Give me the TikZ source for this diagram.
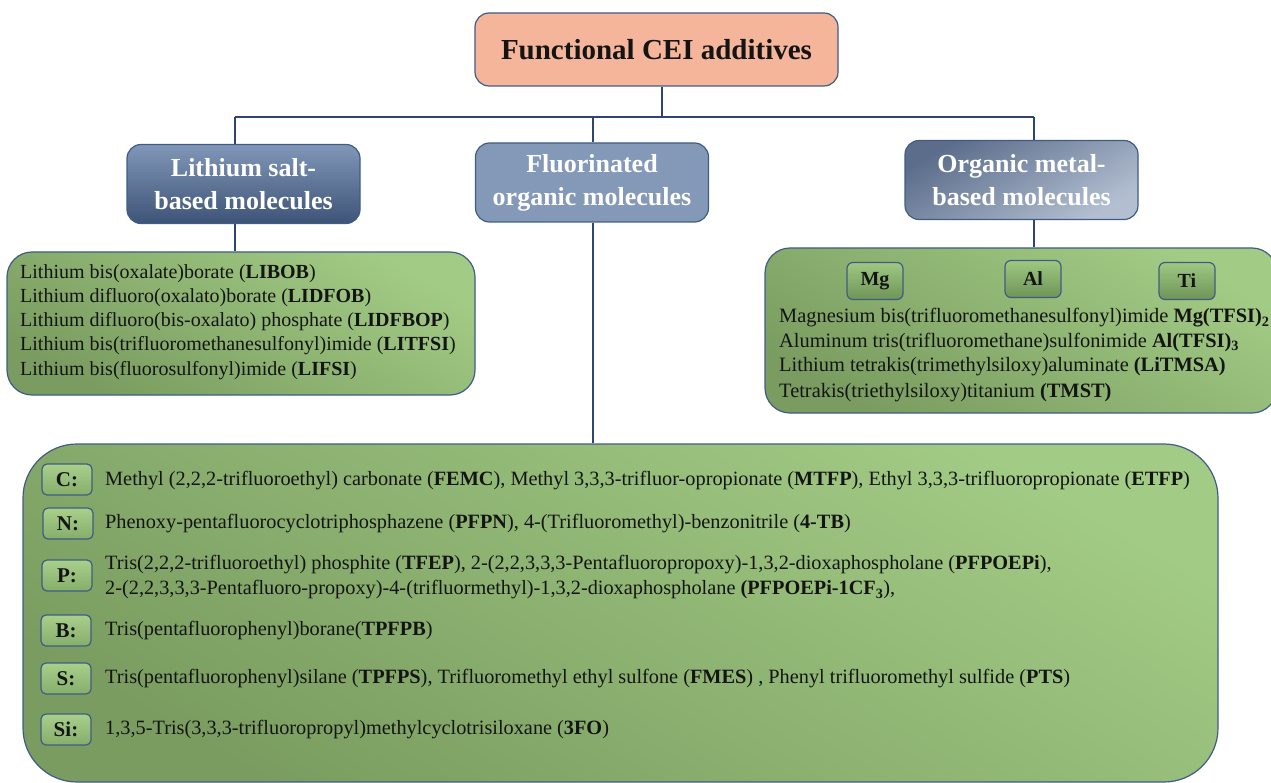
\documentclass[tikz,border=0pt]{standalone}
\usepackage{fontspec}
\setmainfont{Liberation Serif}
\definecolor{navy}{HTML}{2E4473}
\definecolor{edge}{HTML}{405C85}
\definecolor{salmon}{HTML}{F5B59B}
\definecolor{gl}{HTML}{A2CB85}
\definecolor{gd}{HTML}{7A9C60}
\definecolor{lbl}{HTML}{A8D08B}
\definecolor{lbd}{HTML}{86AE6B}
\definecolor{mgl}{HTML}{9EC882}
\definecolor{mgd}{HTML}{6F9457}
\definecolor{bl1}{HTML}{8197B8}
\definecolor{bl2}{HTML}{3D5478}
\definecolor{bl3}{HTML}{8399B7}
\definecolor{bl4}{HTML}{5B6D8B}
\definecolor{bl5}{HTML}{B3BFD1}
\definecolor{ink}{HTML}{141414}
\begin{document}
\begin{tikzpicture}[x=1pt,y=-1pt,
  conn/.style={draw=navy, line width=1.8pt},
  topbox/.style={draw=edge, line width=1.2pt, rounded corners=14pt, fill=salmon,
    minimum width=363pt, minimum height=73pt, text=ink,
    font=\fontsize{29}{32}\selectfont\bfseries},
  catbox/.style={draw=edge, line width=1.2pt, rounded corners=14pt,
    minimum width=233pt, minimum height=79pt, align=center, text=white,
    font=\fontsize{26}{33}\selectfont\bfseries},
  greenbox/.style={draw=edge, line width=1.2pt, top color=gl, bottom color=gd, shading angle=-30},
  elem/.style={draw=edge, line width=1.2pt, rounded corners=5pt, top color=lbl, bottom color=lbd,
    minimum width=50pt, minimum height=31pt, inner sep=0pt, text=ink,
    font=\fontsize{21}{24}\selectfont\bfseries},
  metal/.style={draw=edge, line width=1.2pt, rounded corners=6pt, top color=mgl, bottom color=mgd,
    minimum width=56pt, minimum height=37pt, inner sep=0pt, text=ink,
    font=\fontsize{20}{22}\selectfont\bfseries},
  txt/.style={anchor=west, inner sep=0pt, text=ink, font=\fontsize{20}{22}\selectfont},
  rtxt/.style={anchor=west, inner sep=0pt, text=ink, font=\fontsize{20.4}{22}\selectfont},
  btxt/.style={anchor=west, inner sep=0pt, text=ink, font=\fontsize{20.3}{22}\selectfont},
]
\useasboundingbox (0,0) rectangle (1271,783);

% main boxes
\node[topbox] (top) at (656.5,49.5) {Functional CEI additives};
\node[catbox, top color=bl1, bottom color=bl2] (lith) at (243.5,184) {Lithium salt-\\based molecules};
\node[catbox, fill=bl3] (fluor) at (592,182.5) {Fluorinated\\organic molecules};
\node[catbox, top color=bl4, bottom color=bl5, shading angle=30] (orgm) at (1021.5,180) {Organic metal-\\based molecules};

% green containers
\node[greenbox, rounded corners=25pt, minimum width=468pt, minimum height=143pt, inner sep=0pt] (lbox) at (241,323.5) {};
\node[greenbox, rounded corners=25pt, minimum width=512pt, minimum height=165pt, inner sep=0pt] (rbox) at (1021,330.5) {};
\node[greenbox, rounded corners=54pt, minimum width=1195pt, minimum height=338pt, inner sep=0pt] (bbox) at (620.5,613) {};

% connectors
\coordinate (hub) at (662,117);
\coordinate (jL) at (235,117);
\coordinate (jM) at (593,117);
\coordinate (jR) at (1034,117);
\draw[conn] (top.south -| hub) -- (hub);
\draw[conn] (jL) -- (jR);
\draw[conn] (jL) -- (jL |- lith.north);
\draw[conn] (jM) -- (jM |- fluor.north);
\draw[conn] (jR) -- (jR |- orgm.north);
\draw[conn] (jL |- lith.south) -- (jL |- lbox.north);
\draw[conn] (jM |- fluor.south) -- (jM |- bbox.north);
\draw[conn] (jR |- orgm.south) -- (jR |- rbox.north);

% left box text
\node[txt] (l1) at (20,274) {Lithium bis(oxalate)borate (\textbf{LIBOB})};
\node[txt] (l2) at (20,298) {Lithium difluoro(oxalato)borate (\textbf{LIDFOB})};
\node[txt] (l3) at (20,322) {Lithium difluoro(bis-oxalato) phosphate (\textbf{LIDFBOP})};
\node[txt] (l4) at (20,346) {Lithium bis(trifluoromethanesulfonyl)imide (\textbf{LITFSI})};
\node[txt] (l5) at (20,371) {Lithium bis(fluorosulfonyl)imide (\textbf{LIFSI})};

% right box
\node[metal] (mg) at (875,281) {Mg};
\node[metal] (al) at (1033,279) {Al};
\node[metal] (ti) at (1187,281) {Ti};
\node[rtxt] (r1) at (779,318) {Magnesium bis(trifluoromethanesulfonyl)imide \textbf{Mg(TFSI)\textsubscript{2}}};
\node[rtxt] (r2) at (779,342) {Aluminum tris(trifluoromethane)sulfonimide \textbf{Al(TFSI)\textsubscript{3}}};
\node[rtxt] (r3) at (779,367) {Lithium tetrakis(trimethylsiloxy)aluminate \textbf{(LiTMSA)}};
\node[rtxt] (r4) at (779,393) {Tetrakis(triethylsiloxy)titanium \textbf{(TMST)}};

% bottom box rows
\node[elem] (eC) at (67,479.5) {C:};
\node[elem] (eN) at (68,523.5) {N:};
\node[elem] (eP) at (67,575.5) {P:};
\node[elem] (eB) at (66,630.5) {B:};
\node[elem] (eS) at (66,678.5) {S:};
\node[elem] (eSi) at (66,729.5) {Si:};

\node[btxt] (tC) at (105,481) {Methyl (2,2,2-trifluoroethyl) carbonate (\textbf{FEMC}), Methyl 3,3,3-trifluor-opropionate (\textbf{MTFP}), Ethyl 3,3,3-trifluoropropionate (\textbf{ETFP})};
\node[btxt] (tN) at (105,524) {Phenoxy-pentafluorocyclotriphosphazene (\textbf{PFPN}), 4-(Trifluoromethyl)-benzonitrile (\textbf{4-TB})};
\node[btxt] (tP1) at (105,565) {Tris(2,2,2-trifluoroethyl) phosphite (\textbf{TFEP}), 2-(2,2,3,3,3-Pentafluoropropoxy)-1,3,2-dioxaphospholane (\textbf{PFPOEPi}),};
\node[btxt] (tP2) at (105,590) {2-(2,2,3,3,3-Pentafluoro-propoxy)-4-(trifluormethyl)-1,3,2-dioxaphospholane \textbf{(PFPOEPi-1CF\textsubscript{3}}),};
\node[btxt] (tB) at (105,631) {Tris(pentafluorophenyl)borane(\textbf{TPFPB})};
\node[btxt] (tS) at (105,679) {Tris(pentafluorophenyl)silane (\textbf{TPFPS}), Trifluoromethyl ethyl sulfone (\textbf{FMES}) , Phenyl trifluoromethyl sulfide (\textbf{PTS})};
\node[btxt] (tSi) at (105,730) {1,3,5-Tris(3,3,3-trifluoropropyl)methylcyclotrisiloxane (\textbf{3FO})};
\end{tikzpicture}
\end{document}
